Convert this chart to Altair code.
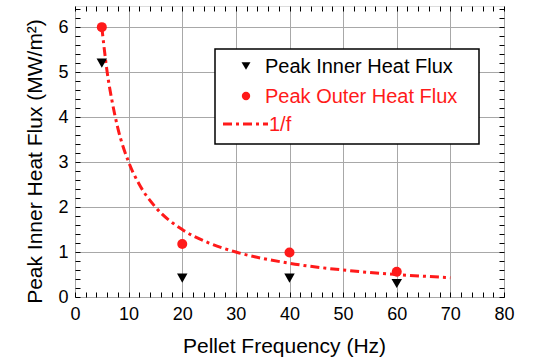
import altair as alt
import pandas as pd

# ---- data ----
freq_pts = [5, 20, 40, 60]
inner_flux = [5.2, 0.42, 0.42, 0.3]
outer_flux = [6.0, 1.18, 0.99, 0.56]

curve_f = [5, 6, 7, 8, 10, 12, 15, 20, 25, 30, 40, 50, 60, 70]
curve_y = [6.0, 5.0, 4.3, 3.75, 3.0, 2.5, 2.0, 1.5, 1.2, 1.0, 0.75, 0.6, 0.5, 0.43]

x_major = [0, 10, 20, 30, 40, 50, 60, 70, 80]
y_major = [0, 1, 2, 3, 4, 5, 6]
x_minor = list(range(0, 81, 2))
y_minor = [round(v * 0.2, 1) for v in range(0, 33)]

legend_labels = ["Peak Inner Heat Flux", "Peak Outer Heat Flux", "1/f"]

TITLE_FONT = "Liberation Sans"
TICK_FONT = "Liberation Sans"

pts = pd.DataFrame({"f": freq_pts, "inner": inner_flux, "outer": outer_flux})
curve = pd.DataFrame({"f": curve_f, "y": curve_y})
dummy = pd.DataFrame({"a": [0]})

xs = alt.Scale(domain=[0, 80], nice=False, zero=False)
ys = alt.Scale(domain=[0, 6.47], nice=False, zero=False)

main_x_axis = alt.Axis(values=x_major, grid=True, gridColor="#a8a8a8", gridWidth=1,
                       tickSize=0, domain=False, labelFont=TICK_FONT, labelFontSize=18,
                       labelColor="black", labelPadding=8, labelFlush=False,
                       title="Pellet Frequency (Hz)",
                       titleFont=TITLE_FONT, titleFontSize=21, titleFontWeight="normal",
                       titleColor="black", titleBaseline="alphabetic", titleY=55, titleX=209)
main_y_axis = alt.Axis(values=y_major, grid=True, gridColor="#a8a8a8", gridWidth=1,
                       tickSize=0, domain=False, labelFont=TICK_FONT, labelFontSize=18,
                       labelColor="black", labelPadding=7, labelFlush=False,
                       title="Peak Inner Heat Flux (MW/m²)",
                       titleFont=TITLE_FONT, titleFontSize=21, titleFontWeight="normal",
                       titleColor="black", titlePadding=12, titleY=155)

def minor_axis(vals, orient):
    return alt.Axis(values=vals, orient=orient, offset=-5, tickSize=5, tickColor="black",
                    tickWidth=1, labels=False, domain=False, grid=False, title=None)

line = alt.Chart(curve).mark_line(color="#ff1a1a", strokeWidth=3, strokeDash=[9, 4, 3, 4],
                                  interpolate="monotone").encode(
    x=alt.X("f:Q", scale=xs, axis=main_x_axis),
    y=alt.Y("y:Q", scale=ys, axis=main_y_axis),
)

inner = alt.Chart(pts).mark_point(shape="triangle-down", filled=True, color="black",
                                  size=110, opacity=1).encode(
    x=alt.X("f:Q", scale=xs, axis=minor_axis(x_minor, "bottom")),
    y=alt.Y("inner:Q", scale=ys, axis=minor_axis(y_minor, "left")),
)

outer = alt.Chart(pts).mark_circle(color="#ff1a1a", size=100, opacity=1).encode(
    x=alt.X("f:Q", scale=xs, axis=minor_axis(x_minor, "top")),
    y=alt.Y("outer:Q", scale=ys, axis=minor_axis(y_minor, "right")),
)

# ---- hand-built legend box ----
leg_box = alt.Chart(dummy).mark_rect(fill="white", stroke="black", strokeWidth=1.5).encode(
    x=alt.value(140), x2=alt.value(404), y=alt.value(43), y2=alt.value(138))
leg_tri = alt.Chart(dummy).mark_point(shape="triangle-down", filled=True, color="black",
                                      size=80, opacity=1).encode(
    x=alt.value(171), y=alt.value(60))
leg_circ = alt.Chart(dummy).mark_circle(color="#ff1a1a", size=70, opacity=1).encode(
    x=alt.value(171), y=alt.value(90))
leg_line = alt.Chart(dummy).mark_rule(color="#ff1a1a", strokeWidth=3,
                                      strokeDash=[9, 4, 3, 4]).encode(
    x=alt.value(148), x2=alt.value(193), y=alt.value(118))

def leg_text(label, x, y, color):
    return alt.Chart(dummy).mark_text(text=label, align="left", baseline="middle",
                                      font=TITLE_FONT, fontSize=20, color=color).encode(
        x=alt.value(x), y=alt.value(y))

chart = alt.layer(
    line, inner, outer,
    leg_box, leg_tri, leg_circ, leg_line,
    leg_text(legend_labels[0], 190, 61, "black"),
    leg_text(legend_labels[1], 190, 91, "#ff1a1a"),
    leg_text(legend_labels[2], 194, 119, "#ff1a1a"),
).resolve_axis(x="independent", y="independent").properties(
    width=429, height=291,
    autosize=alt.AutoSizeParams(type="none"),
    padding={"left": 75, "top": 6, "right": 45, "bottom": 65},
).configure_view(stroke="black", strokeWidth=2).configure(background="white")

chart.save("out.html", embed_options={"renderer": "svg", "actions": False})
